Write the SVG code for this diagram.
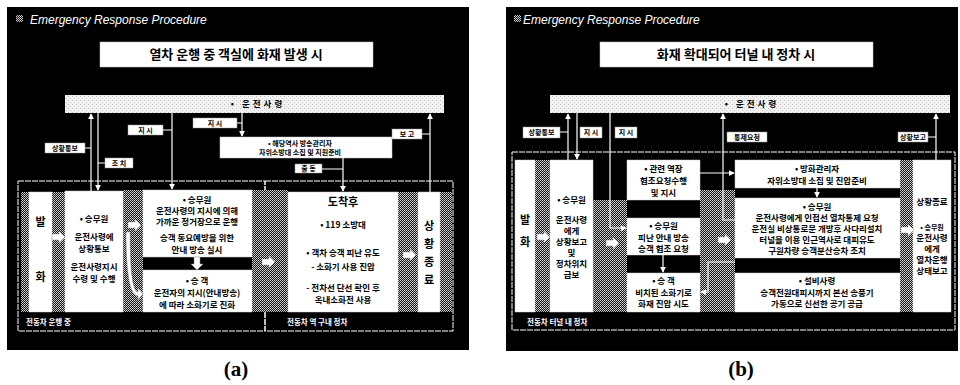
<svg xmlns="http://www.w3.org/2000/svg" width="960" height="385" viewBox="0 0 960 385">
<defs>
<pattern id="h" width="2" height="2" patternUnits="userSpaceOnUse"><rect width="2" height="2" fill="#111"/><rect width="1" height="1" fill="#ddd"/><rect x="1" y="1" width="1" height="1" fill="#bbb"/></pattern>
<pattern id="lt" width="4" height="4" patternUnits="userSpaceOnUse"><rect width="4" height="4" fill="#f2f2f2"/><rect width="1" height="1" fill="#bbb"/><rect x="2" y="2" width="1" height="1" fill="#ccc"/></pattern>
<marker id="ah" viewBox="0 0 8 8" refX="7" refY="4" markerWidth="6" markerHeight="6" orient="auto-start-reverse" markerUnits="userSpaceOnUse"><path d="M0,0 L8,4 L0,8 Z" fill="#fff"/></marker>
<path id="fa" d="M0,-3 H7 V-6 L13,0 L7,6 V3 H0 Z"/>
</defs>
<style>
.bg{fill:#000}
.box{fill:#fff;stroke:#ccc;stroke-width:0.5}
.bar{fill:url(#lt)}
.hat{fill:url(#h)}
.lbl{fill:#fff;stroke:#999;stroke-width:0.5}
.ln{stroke:#fff;stroke-width:1.2;fill:none}
.rg{stroke:#fff;stroke-width:1;fill:none;stroke-dasharray:6 1}
.t{font-family:"Noto Sans CJK KR","Noto Sans",sans-serif;font-weight:bold;fill:#000;text-anchor:middle}
.s{font-size:8.5px}
.xs{font-size:7px}
.m{font-size:11px}
.big{font-size:13px}
.hd{font-family:"Liberation Sans",sans-serif;font-style:italic;font-size:12px;fill:#fff}
.cap{font-family:"Liberation Serif",serif;font-weight:bold;font-size:21px;fill:#000;text-anchor:middle}
.rl{font-family:"Noto Sans CJK KR",sans-serif;font-weight:bold;font-size:7.5px;fill:#fff}
.fa{fill:#fff;stroke:#888;stroke-width:0.5}
</style>
<rect width="960" height="385" fill="#fff"/>

<!-- ===== Panel (a) ===== -->
<g id="panel-a">
<rect class="bg" x="7" y="7" width="462" height="343"/>
<rect class="hat" x="16" y="15" width="7" height="7"/>
<text class="hd" x="30" y="24">Emergency Response Procedure</text>
<g id="a-title"><rect class="box" x="100" y="42" width="273" height="25"/><text class="t big" x="236" y="59">열차 운행 중 객실에 화재 발생 시</text></g>
<g id="a-bar"><rect class="bar" x="65" y="95" width="379" height="18"/><text class="t s" x="258" y="107" letter-spacing="3">• 운전사령</text></g>

<g id="a-regions">
<rect class="rg" x="18" y="181" width="247" height="150"/>
<rect class="rg" x="265" y="181" width="188" height="150"/>
<text class="rl" x="26" y="325">전동차 운행 중</text>
<text class="rl" x="287" y="325">전동차 역 구내 정차</text>
</g>

<rect class="hat" x="21" y="192" width="8" height="120"/>
<rect class="hat" x="52" y="192" width="13" height="120"/>
<rect class="hat" x="123" y="190" width="20" height="122"/>
<rect class="hat" x="252" y="190" width="36" height="122"/>
<rect class="hat" x="398" y="192" width="20" height="120"/>
<rect class="hat" x="440" y="192" width="12" height="120"/>

<g id="a-fire"><rect class="box" x="29" y="192" width="23" height="120"/><text class="t m" x="40.5" y="226">발</text><text class="t m" x="40.5" y="281">화</text></g>
<g id="a-crew1"><rect class="box" x="65" y="191" width="58" height="121"/>
<text class="t s" x="94" y="222">• 승무원</text><text class="t s" x="94" y="240">운전사령에</text><text class="t s" x="94" y="252">상황통보</text><text class="t s" x="94" y="270">운전사령지시</text><text class="t s" x="94" y="282">수령 및 수행</text></g>
<g id="a-crew2"><rect class="box" x="143" y="190" width="109" height="67"/>
<text class="t s" x="197" y="203">• 승무원</text><text class="t s" x="197" y="214">운전사령의 지시에 의해</text><text class="t s" x="197" y="225">가까운 정거장으로 운행</text><text class="t s" x="197" y="241">승객 동요예방을 위한</text><text class="t s" x="197" y="253">안내 방송 실시</text></g>
<g id="a-pass"><rect class="box" x="143" y="270" width="109" height="42"/>
<text class="t s" x="197" y="284">• 승 객</text><text class="t s" x="197" y="296">운전자의 지시(안내방송)</text><text class="t s" x="197" y="308">에 따라 소화기로 진화</text></g>
<g id="a-station"><rect class="box" x="220" y="137" width="172" height="21"/>
<text class="t xs" x="300" y="146">• 해당역사 방송관리자</text><text class="t xs" x="300" y="155">자위소방대 소집 및 지원준비</text></g>
<g id="a-arrive"><rect class="box" x="288" y="192" width="110" height="120"/>
<text class="t m" x="343" y="206">도착후</text><text class="t s" x="343" y="228">• 119 소방대</text><text class="t s" x="343" y="256">• 객차 승객 피난 유도</text><text class="t s" x="343" y="270">- 소화기 사용 진압</text><text class="t s" x="343" y="291">- 전차선 단선 확인 후</text><text class="t s" x="343" y="303">옥내소화전 사용</text></g>
<g id="a-end"><rect class="box" x="418" y="192" width="22" height="120"/>
<text class="t m" x="429" y="230">상</text><text class="t m" x="429" y="248">황</text><text class="t m" x="429" y="266">종</text><text class="t m" x="429" y="284">료</text></g>

<g id="a-connectors">
<path class="ln" d="M91,191 V114" marker-end="url(#ah)"/>
<path class="ln" d="M98,113 V190" marker-end="url(#ah)"/>
<path class="ln" d="M172,113 V189" marker-end="url(#ah)"/>
<path class="ln" d="M242,113 V136" marker-end="url(#ah)"/>
<path class="ln" d="M343,158 V191" marker-end="url(#ah)"/>
<path class="ln" d="M430,192 V114" marker-end="url(#ah)"/>
<path class="ln" d="M85,148 H91 M98,163 H105 M163,130 H172 M237,123 H242 M322,169 H343 M422,134 H430"/>
<rect class="lbl" x="45" y="143" width="40" height="10"/><text class="t xs" x="65" y="151">상황통보</text>
<rect class="lbl" x="105" y="158" width="28" height="10"/><text class="t xs" x="119" y="166">조 치</text>
<rect class="lbl" x="128" y="125" width="35" height="10"/><text class="t xs" x="145.5" y="133">지 시</text>
<rect class="lbl" x="193" y="118" width="44" height="10"/><text class="t xs" x="215" y="126">지 시</text>
<rect class="lbl" x="295" y="164" width="27" height="9"/><text class="t xs" x="308.5" y="171">출 동</text>
<rect class="lbl" x="392" y="129" width="30" height="10"/><text class="t xs" x="407" y="137">보 고</text>
<use href="#fa" class="fa" x="52" y="237"/>
<use href="#fa" class="fa" x="128" y="225"/>
<path class="fa" d="M130,232 Q130,292 138,292 V288 L143,294 L138,300 V296 Q126,296 126,232 Z"/>
<use href="#fa" class="fa" transform="translate(197,257) rotate(90)"/>
<use href="#fa" class="fa" x="262" y="262"/>
<use href="#fa" class="fa" x="403" y="255"/>
</g>
</g>

<!-- ===== Panel (b) ===== -->
<g id="panel-b">
<rect class="bg" x="506" y="7" width="452" height="344"/>
<rect class="hat" x="514" y="15" width="7" height="7"/>
<text class="hd" x="523" y="24">Emergency Response Procedure</text>
<g id="b-title"><rect class="box" x="600" y="42" width="273" height="25"/><text class="t big" x="736" y="59">화재 확대되어 터널 내 정차 시</text></g>
<g id="b-bar"><rect class="bar" x="550" y="95" width="400" height="18"/><text class="t s" x="752" y="107" letter-spacing="3">• 운전사령</text></g>

<g id="b-region">
<rect class="rg" x="512" y="152" width="443" height="178"/>
<text class="rl" x="527" y="325">전동차 터널 내 정차</text>
</g>
<rect class="hat" x="535" y="160" width="15" height="152"/>
<rect class="hat" x="593" y="200" width="34" height="112"/>
<rect class="hat" x="700" y="190" width="35" height="122"/>
<rect class="hat" x="900" y="160" width="13" height="152"/>

<g id="b-fire"><rect class="box" x="515" y="160" width="20" height="152"/><text class="t m" x="525" y="224">발</text><text class="t m" x="525" y="246">화</text></g>
<g id="b-crew1"><rect class="box" x="550" y="160" width="43" height="152"/>
<text class="t s" x="571.5" y="203">• 승무원</text><text class="t s" x="571.5" y="223">운전사령</text><text class="t s" x="571.5" y="234">에게</text><text class="t s" x="571.5" y="245">상황보고</text><text class="t s" x="571.5" y="256">및</text><text class="t s" x="571.5" y="267">정차위치</text><text class="t s" x="571.5" y="278">급보</text></g>
<g id="b-stn"><rect class="box" x="627" y="160" width="73" height="40"/>
<text class="t s" x="663.5" y="172">• 관련 역장</text><text class="t s" x="663.5" y="184">협조요청수행</text><text class="t s" x="663.5" y="196">및 지시</text></g>
<g id="b-crew2"><rect class="box" x="627" y="218" width="73" height="37"/>
<text class="t s" x="663.5" y="229">• 승무원</text><text class="t s" x="663.5" y="241">피난 안내 방송</text><text class="t s" x="663.5" y="252">승객 협조 요청</text></g>
<g id="b-pass"><rect class="box" x="627" y="273" width="73" height="39"/>
<text class="t s" x="663.5" y="284">• 승 객</text><text class="t s" x="663.5" y="296">비치된 소화기로</text><text class="t s" x="663.5" y="307">화재 진압 시도</text></g>
<g id="b-fm"><rect class="box" x="735" y="160" width="165" height="28"/>
<text class="t s" x="817" y="172">• 방화관리자</text><text class="t s" x="817" y="184">자위소방대 소집 및 진압준비</text></g>
<g id="b-crew3"><rect class="box" x="735" y="198" width="165" height="60"/>
<text class="t s" x="817" y="210">• 승무원</text><text class="t s" x="817" y="221">운전사령에게 인접선 열차통제 요청</text><text class="t s" x="817" y="232">운전실 비상통로문 개방후 사다리설치</text><text class="t s" x="817" y="243">터널을 이용 인근역사로 대피유도</text><text class="t s" x="817" y="254">구원차량 승객분산승차 조치</text></g>
<g id="b-fac"><rect class="box" x="735" y="273" width="165" height="39"/>
<text class="t s" x="817" y="284">• 설비사령</text><text class="t s" x="817" y="296">승객전원대피시까지 본선 송풍기</text><text class="t s" x="817" y="307">가동으로 신선한 공기 공급</text></g>
<g id="b-end"><rect class="box" x="913" y="160" width="38" height="152"/>
<text class="t s" x="932" y="205">상황종료</text><text class="t xs" x="932" y="230">• 승무원</text><text class="t s" x="932" y="241">운전사령</text><text class="t s" x="932" y="252">에게</text><text class="t s" x="932" y="263">열차운행</text><text class="t s" x="932" y="274">상태보고</text></g>

<g id="b-connectors">
<path class="ln" d="M568,160 V114" marker-end="url(#ah)"/>
<path class="ln" d="M577,113 V159" marker-end="url(#ah)"/>
<path class="ln" d="M610,113 V228 H626" marker-end="url(#ah)"/>
<path class="ln" d="M735,220 H723 V114" marker-end="url(#ah)"/>
<path class="ln" d="M936,160 V114" marker-end="url(#ah)"/>
<path class="ln" d="M700,173 H734" marker-end="url(#ah)"/>
<path class="ln" d="M817,188 V197" marker-end="url(#ah)"/>
<path class="ln" d="M663,255 V272" marker-end="url(#ah)"/>
<path class="ln" d="M735,262 H708 V292 H701" marker-end="url(#ah)"/>
<path class="ln" d="M560,132 H568 M928,137 H936"/>
<rect class="lbl" x="523" y="127" width="37" height="11"/><text class="t xs" x="541.5" y="135">상황통보</text>
<rect class="lbl" x="580" y="127" width="22" height="11"/><text class="t xs" x="591" y="135">지 시</text>
<rect class="lbl" x="615" y="127" width="22" height="11"/><text class="t xs" x="626" y="135">지 시</text>
<rect class="lbl" x="727" y="132" width="40" height="10"/><text class="t xs" x="747" y="140">통제요청</text>
<rect class="lbl" x="898" y="132" width="30" height="10"/><text class="t xs" x="913" y="140">상황보고</text>
<use href="#fa" class="fa" x="537" y="237"/>
<use href="#fa" class="fa" x="606" y="243"/>
<use href="#fa" class="fa" x="718" y="240"/>
<use href="#fa" class="fa" x="901" y="230"/>
</g>
</g>

<text class="cap" x="236" y="376">(a)</text>
<text class="cap" x="741" y="376">(b)</text>
</svg>
